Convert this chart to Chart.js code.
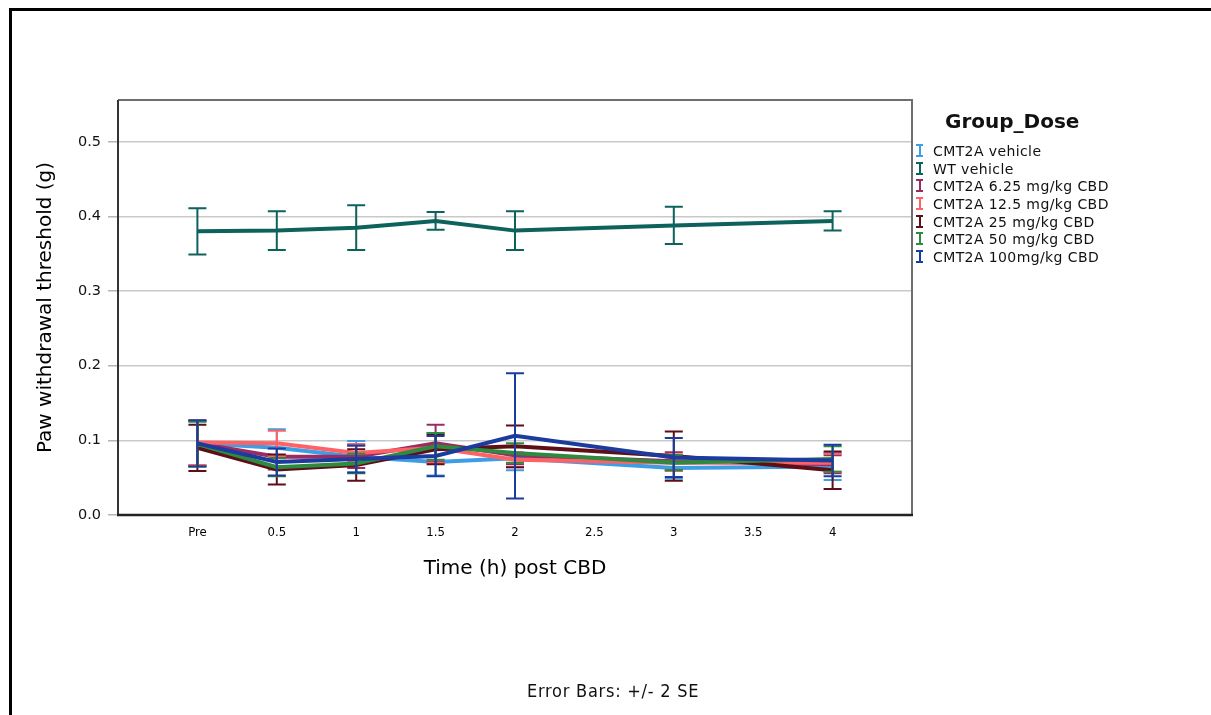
<!DOCTYPE html>
<html>
<head>
<meta charset="utf-8">
<script src="https://cdn.jsdelivr.net/npm/chart.js@4.4.1/dist/chart.umd.min.js"></script>
<style>
  body { margin: 0; background: #fff; }
  #wrap { position: relative; width: 1211px; height: 715px; overflow: hidden; background: #fff; }
  #frame { position: absolute; left: 9px; top: 8px; width: 1300px; height: 800px;
           border-left: 3px solid #000; border-top: 3px solid #000; }
  #plot { position: absolute; left: 0; top: 0; }
  #legend { position: absolute; left: 916px; top: 107px; font-family: "DejaVu Sans", sans-serif; color: #111; }
  #legend .title { font-weight: bold; font-size: 20px; margin-left: 29px; height: 36px; line-height: 28px; }
  #legend .item { font-size: 14px; height: 17.7px; line-height: 17.7px; white-space: nowrap; letter-spacing: 0.4px; }
  #legend .mark { display: inline-block; width: 7px; height: 9px; margin-right: 10px; vertical-align: -1px;
                  border-top: 2px solid; border-bottom: 2px solid; position: relative; box-sizing: content-box; }
  #legend .mark::before { content: ""; position: absolute; left: 2.5px; top: 0; width: 2px; height: 9px; background: currentColor; }
  #footer { position: absolute; left: 527px; top: 680px; font-family: "DejaVu Sans Condensed", "Liberation Sans Narrow", sans-serif;
            font-size: 18px; letter-spacing: 0.75px; color: #111; }
</style>
</head>
<body>
<div id="wrap">
  <div id="frame"></div>
  <canvas id="plot" width="1211" height="715"></canvas>
  <div id="legend"></div>
  <div id="footer">Error Bars: +/- 2 SE</div>
</div>
<script>
// time points (h after dosing, Pre = 0)
const times = [0, 0.5, 1, 1.5, 2, 3, 4];
const tickValues = [0, 0.5, 1, 1.5, 2, 2.5, 3, 3.5, 4];
const tickLabels = ['Pre', '0.5', '1', '1.5', '2', '2.5', '3', '3.5', '4'];

const groupNames = ['CMT2A vehicle', 'WT vehicle', 'CMT2A 6.25 mg/kg CBD', 'CMT2A 12.5 mg/kg CBD',
                    'CMT2A 25 mg/kg CBD', 'CMT2A 50 mg/kg CBD', 'CMT2A 100mg/kg CBD'];
const groupColors = ['#3d9ee6', '#0d625c', '#9b2c63', '#ff6266', '#5e0e16', '#2d8a3e', '#1b3c9e'];

// mean paw withdrawal threshold (g) and 2 SE half-widths
const cmt2aVehicle    = [0.096, 0.090, 0.078, 0.071, 0.076, 0.063, 0.065];
const cmt2aVehicleErr = [0.030, 0.025, 0.021, 0.018, 0.016, 0.014, 0.018];
const wtVehicle       = [0.380, 0.381, 0.385, 0.394, 0.381, 0.388, 0.394];
const wtVehicleErr    = [0.031, 0.026, 0.030, 0.012, 0.026, 0.025, 0.013];
const cbd6            = [0.096, 0.078, 0.078, 0.096, 0.080, 0.072, 0.068];
const cbd6Err         = [0.030, 0.017, 0.015, 0.025, 0.012, 0.012, 0.012];
const cbd12           = [0.097, 0.096, 0.083, 0.090, 0.074, 0.070, 0.070];
const cbd12Err        = [0.030, 0.017, 0.012, 0.020, 0.010, 0.011, 0.012];
const cbd25           = [0.090, 0.061, 0.067, 0.088, 0.092, 0.079, 0.060];
const cbd25Err        = [0.031, 0.020, 0.021, 0.020, 0.028, 0.033, 0.025];
const cbd50           = [0.095, 0.064, 0.069, 0.092, 0.083, 0.070, 0.075];
const cbd50Err        = [0.030, 0.012, 0.013, 0.018, 0.013, 0.010, 0.017];
const cbd100          = [0.096, 0.071, 0.075, 0.079, 0.106, 0.077, 0.073];
const cbd100Err       = [0.031, 0.018, 0.018, 0.027, 0.084, 0.026, 0.021];

const means = [cmt2aVehicle, wtVehicle, cbd6, cbd12, cbd25, cbd50, cbd100];
const errs  = [cmt2aVehicleErr, wtVehicleErr, cbd6Err, cbd12Err, cbd25Err, cbd50Err, cbd100Err];

const datasets = groupNames.map((name, i) => ({
  label: name,
  data: times.map((t, j) => ({ x: t, y: means[i][j] })),
  errors: errs[i],
  borderColor: groupColors[i],
  borderWidth: 4,
  pointRadius: 0,
  tension: 0,
  fill: false,
  order: groupNames.length - 1 - i   // later groups on top
}));

// vertical error bars with caps, drawn right after each line
const errorBars = {
  id: 'errorBars',
  afterDatasetDraw(chart, args) {
    const ds = chart.data.datasets[args.index];
    const yScale = chart.scales.y;
    const ctx = chart.ctx;
    ctx.save();
    ctx.strokeStyle = ds.borderColor;
    ctx.lineWidth = 2;
    args.meta.data.forEach((pt, j) => {
      const v = ds.data[j].y, e = ds.errors[j];
      const top = yScale.getPixelForValue(v + e);
      const bot = yScale.getPixelForValue(v - e);
      ctx.beginPath();
      ctx.moveTo(pt.x, top); ctx.lineTo(pt.x, bot);
      ctx.moveTo(pt.x - 9, top); ctx.lineTo(pt.x + 9, top);
      ctx.moveTo(pt.x - 9, bot); ctx.lineTo(pt.x + 9, bot);
      ctx.stroke();
    });
    ctx.restore();
  }
};

// plot box outline
const plotFrame = {
  id: 'plotFrame',
  afterDraw(chart) {
    const { ctx, chartArea: a } = chart;
    ctx.save();
    ctx.lineWidth = 2;
    ctx.strokeStyle = '#6e6e6e';
    ctx.beginPath();
    ctx.moveTo(a.left, a.top); ctx.lineTo(a.right, a.top); ctx.lineTo(a.right, a.bottom);
    ctx.stroke();
    ctx.strokeStyle = '#333';
    ctx.beginPath();
    ctx.moveTo(a.left, a.top); ctx.lineTo(a.left, a.bottom);
    ctx.stroke();
    ctx.lineWidth = 2.5;
    ctx.strokeStyle = '#222';
    ctx.beginPath();
    ctx.moveTo(a.left - 1, a.bottom); ctx.lineTo(a.right + 1, a.bottom);
    ctx.stroke();
    ctx.restore();
  }
};

const condensed = '"DejaVu Sans Condensed", "Liberation Sans Narrow", sans-serif';

new Chart(document.getElementById('plot').getContext('2d'), {
  type: 'line',
  data: { datasets: datasets },
  options: {
    responsive: false,
    animation: false,
    layout: { padding: { left: 0, top: 100, right: 299, bottom: 134 } },
    plugins: { legend: { display: false }, tooltip: { enabled: false } },
    scales: {
      x: {
        type: 'linear',
        min: -0.5,
        max: 4.5,
        afterFit: s => { s.height = 66; },
        grid: { display: false, drawTicks: false },
        border: { display: false },
        ticks: {
          stepSize: 0.5,
          padding: 10,
          autoSkip: false,
          maxRotation: 0,
          color: '#000',
          font: { family: condensed, size: 13 },
          callback: v => {
            const k = tickValues.indexOf(v);
            return k < 0 ? '' : tickLabels[k];
          }
        },
        title: {
          display: true,
          text: 'Time (h) post CBD',
          color: '#000',
          font: { family: '"DejaVu Sans", sans-serif', size: 20 },
          padding: { top: 0, bottom: 0 }
        }
      },
      y: {
        min: 0,
        max: 0.556,
        afterFit: s => { s.width = 118; },
        grid: { color: '#c9c9c9', lineWidth: 1.5, tickLength: 10, tickColor: '#b5b5b5' },
        border: { display: false },
        ticks: {
          stepSize: 0.1,
          includeBounds: false,
          padding: 7,
          color: '#111',
          font: { family: '"DejaVu Sans", sans-serif', size: 14.5 },
          callback: v => v.toFixed(1)
        },
        title: {
          display: true,
          text: 'Paw withdrawal threshold (g)',
          color: '#000',
          font: { family: '"DejaVu Sans", sans-serif', size: 20 },
          padding: { top: 34, bottom: 0 }
        }
      }
    }
  },
  plugins: [errorBars, plotFrame]
});

// legend block
const legend = document.getElementById('legend');
legend.innerHTML = '<div class="title">Group_Dose</div>' +
  groupNames.map((n, i) =>
    `<div class="item"><span class="mark" style="color:${groupColors[i]}"></span>${n}</div>`).join('');
</script>
</body>
</html>
